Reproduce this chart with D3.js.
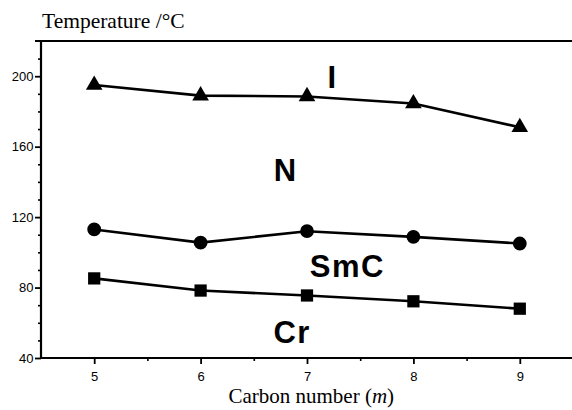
<!DOCTYPE html>
<html>
<head>
<meta charset="utf-8">
<script src="https://cdn.jsdelivr.net/npm/d3@7"></script>
<style>
  html, body { margin: 0; padding: 0; background: #fff; }
  svg { display: block; }
</style>
</head>
<body>
<div id="chart"></div>
<script>
// carbon number m
const carbon = [5, 6, 7, 8, 9];
// transition temperatures (deg C)
const isoTemps = [195, 189, 188.5, 184.5, 171];   // N -> I
const smcTemps = [113, 105.5, 112, 108.8, 105];   // SmC -> N
const crTemps = [85.2, 78.3, 75.5, 72.2, 68];     // Cr -> SmC
const xTicks = [5, 6, 7, 8, 9];
const yTicks = [40, 80, 120, 160, 200];
const phaseLabels = ['I', 'N', 'SmC', 'Cr'];
const phaseAt = [[7.24, 193.3], [6.8, 140.3], [7.38, 86.2], [6.86, 48.8]];

const width = 572, height = 410;
const margin = { top: 41, right: -1, bottom: 52, left: 41 };

const svg = d3.select('#chart')
  .append('svg')
  .attr('width', width)
  .attr('height', height);

const x = d3.scaleLinear()
  .domain([4.5, 9.5])
  .range([margin.left, width - margin.right]);
const y = d3.scaleLinear()
  .domain([40, 220])
  .range([height - margin.bottom, margin.top]);

const sans = '"Liberation Sans", Arial, sans-serif';
const serif = '"Liberation Serif", "Times New Roman", serif';

// minor ticks first, under the axis lines
const gMinorX = svg.append('g')
  .attr('transform', `translate(0,${y(40)})`)
  .call(d3.axisBottom(x).tickValues([5.5, 6.5, 7.5, 8.5]).tickSize(3).tickFormat(''));
const gMinorY = svg.append('g')
  .attr('transform', `translate(${x(4.5)},0)`)
  .call(d3.axisLeft(y).tickValues(d3.range(50, 220, 10).filter(v => v % 40 !== 0)).tickSize(3).tickFormat(''));
[gMinorX, gMinorY].forEach(g => {
  g.select('.domain').remove();
  g.selectAll('line').attr('stroke', '#000').attr('stroke-width', 1.6);
});

const gx = svg.append('g')
  .attr('transform', `translate(0,${y(40)})`)
  .call(d3.axisBottom(x).tickValues(xTicks).tickSize(6).tickPadding(8).tickFormat(d3.format('d')));
const gy = svg.append('g')
  .attr('transform', `translate(${x(4.5)},0)`)
  .call(d3.axisLeft(y).tickValues(yTicks).tickSize(6).tickPadding(1.5).tickFormat(d3.format('d')));
[gx, gy].forEach(g => {
  g.select('.domain').remove();
  g.selectAll('line').attr('stroke', '#000').attr('stroke-width', 1.8);
  g.selectAll('text')
    .attr('fill', '#000')
    .style('font-family', sans)
    .style('font-size', '13px');
});

// axis frame: left, bottom and top lines
svg.append('path')
  .attr('d', `M${x(4.5)},${y(40) + 1}V${y(220)}M${x(4.5) - 6},${y(220)}H${width}M${x(4.5) - 1},${y(40)}H${width}`)
  .attr('fill', 'none')
  .attr('stroke', '#000')
  .attr('stroke-width', 2.2);

const series = [
  { values: isoTemps, symbol: d3.symbolTriangle, size: 120 },
  { values: smcTemps, symbol: d3.symbolCircle, size: 150 },
  { values: crTemps, symbol: d3.symbolSquare, size: 150 }
];

const line = d3.line()
  .x(d => x(d[0]))
  .y(d => y(d[1]));

series.forEach(s => {
  const pts = carbon.map((c, i) => [c, s.values[i]]);
  svg.append('path')
    .datum(pts)
    .attr('d', line)
    .attr('fill', 'none')
    .attr('stroke', '#000')
    .attr('stroke-width', 2.6);
  svg.append('g')
    .selectAll('path')
    .data(pts)
    .join('path')
    .attr('transform', d => `translate(${x(d[0])},${y(d[1])})`)
    .attr('d', d3.symbol().type(s.symbol).size(s.size))
    .attr('fill', '#000');
});

svg.append('g')
  .selectAll('text')
  .data(phaseLabels)
  .join('text')
  .attr('x', (d, i) => x(phaseAt[i][0]))
  .attr('y', (d, i) => y(phaseAt[i][1]))
  .attr('text-anchor', 'middle')
  .style('font-family', sans)
  .style('font-weight', 'bold')
  .style('font-size', '31px')
  .style('letter-spacing', '1.5px')
  .text(d => d);

svg.append('text')
  .attr('x', 42)
  .attr('y', 28)
  .style('font-family', serif)
  .style('font-size', '21.5px')
  .text('Temperature /°C');

const xl = svg.append('text')
  .attr('x', x(7.04))
  .attr('y', 403)
  .attr('text-anchor', 'middle')
  .style('font-family', serif)
  .style('font-size', '21px');
xl.append('tspan').text('Carbon number (');
xl.append('tspan').style('font-style', 'italic').text('m');
xl.append('tspan').text(')');
</script>
</body>
</html>
